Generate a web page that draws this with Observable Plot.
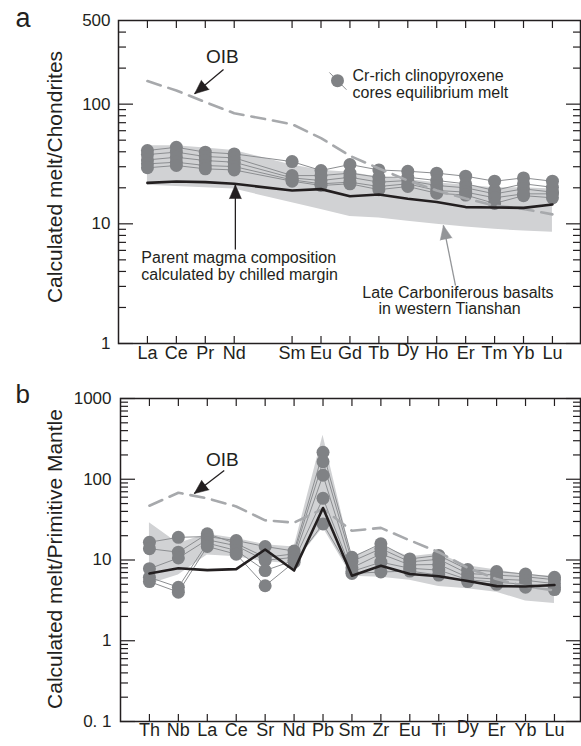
<!DOCTYPE html>
<html><head><meta charset="utf-8">
<script src="https://cdn.jsdelivr.net/npm/d3@7"></script>
<script src="https://cdn.jsdelivr.net/npm/@observablehq/plot@0.6"></script>
<style>
html,body{margin:0;padding:0;background:#fff;}
#chart{width:581px;}
#chart svg{display:block;overflow:visible;}
</style></head><body><div id="chart"></div>
<script>
// ---------------- Panel a: chondrite-normalised REE ----------------
const reeElements = ["La","Ce","Pr","Nd","Pm","Sm","Eu","Gd","Tb","Dy","Ho","Er","Tm","Yb","Lu"];
const reeOIB      = [156,130,104,84,null,68,52,37,29,23,19,16.3,14.2,13.3,12];
const reeParent   = [22,22.6,22.3,21.6,null,19,19.5,17,17.6,16.2,15.2,13.8,13.7,13.6,14.5];
const reeBasaltLow  = [21,20.5,20,19.5,null,15,13.2,11.5,11.2,10.5,9.9,9.4,9.0,8.7,8.5];
const reeBasaltHigh = [45,45,43,41,null,31,28,27,24.5,23.5,22,21,20,20,19.5];
const reeCpx1 = [41,43.6,39.7,38.4,null,33.1,27.9,31.3,28.2,27.5,26.5,25,22.7,24.2,22.7];
const reeCpx2 = [37.9,39.7,36.5,35.6,null,25.3,25.3,26.5,24.5,24.5,23,21.6,19,21.6,20.2];
const reeCpx3 = [34.2,36,33.8,32.7,null,24.2,23,24.5,22.3,23,20.9,20,17.8,19.6,18.4];
const reeCpx4 = [31.7,32.7,30.7,30.1,null,23.3,21.6,22.3,20.5,21.6,19,18.4,16.5,17.8,17.8];
const reeCpx5 = [29.4,30.7,28.8,28.2,null,22.7,20.9,21.6,19.3,20.5,18,17.4,14.8,17.2,16.5];
const aYTicks = [1,10,100,500];
const aYTickLabels = ["1","10","100","500"];
const aYMajor = [1,10,100];
const aYMinor = [2,3,4,5,6,7,8,9,20,30,40,50,60,70,80,90,200,300,400];

// ---------------- Panel b: primitive-mantle-normalised spider ----------------
const pmElements = ["Th","Nb","La","Ce","Sr","Nd","Pb","Sm","Zr","Eu","Ti","Dy","Er","Yb","Lu"];
const pmOIB      = [47,68,58,46,31,29,43,23,25,17.5,12.5,8,5.8,4.7,4.2];
const pmParent   = [6.8,7.9,7.5,7.7,13.5,7.4,44,6.4,8.5,6.7,6.3,5.5,4.75,4.7,4.9];
const pmBasaltLow  = [5,6.5,11.5,11,9.5,9,25,6.3,6.1,5.6,4.7,4.4,4.0,3.1,2.9];
const pmBasaltHigh = [29,16,21,18.5,15.5,14.5,350,11,15,11,12,8.5,7.5,6.6,6.3];
const pmCpx1 = [16.6,19.1,19.5,17.4,14.7,12.9,216,10.8,15.9,10.3,11.4,7.6,7.2,6.7,6.1];
const pmCpx2 = [13.8,12.5,21.1,16,10.8,11.9,165,9.6,13.8,9.5,10.2,6.8,6.5,6.2,5.7];
const pmCpx3 = [7.8,10.6,17.8,15,9.9,10.8,112,8,11.9,8.7,8.8,6.1,5.8,5.6,5.1];
const pmCpx4 = [6.1,4.6,16.2,13.1,7.4,9.9,58,7.2,9.4,7.9,7.5,5.7,5.3,5.0,4.6];
const pmCpx5 = [5.4,4.0,14.7,11.8,4.8,9.4,28,6.8,7.1,7.3,6.5,5.4,5.0,4.6,4.3];
const bYTicks = [0.1,1,10,100,1000];
const bYTickLabels = ["0. 1","1","10","100","1000"];
const bYMajor = [0.1,1,10,100,1000];
const bYMinor = [0.2,0.3,0.4,0.5,0.6,0.7,0.8,0.9,2,3,4,5,6,7,8,9,20,30,40,50,60,70,80,90,200,300,400,500,600,700,800,900];

// ---------------- styling ----------------
const FONT = "'Liberation Sans', Arial, Helvetica, sans-serif";
const INK = "#231f20";
const DOT = "#808285";
const THIN = "#8c8e91";
const BAND = "#d1d2d4";
const OIBC = "#a7a9ac";

function rows(cats, vals) {
  return cats.map((el, i) => ({i, el, v: vals[i]})).filter(d => d.v != null);
}
function bandRows(cats, lo, hi) {
  return cats.map((el, i) => ({i, lo: lo[i], hi: hi[i]})).filter(d => d.lo != null);
}
function cpxRows(cats, list) {
  return list.flatMap((vals, s) => rows(cats, vals).map(d => ({...d, s})));
}
function ticks(xTicks, yMajor, yMinor) {
  const o = {fill: "none", stroke: INK, strokeWidth: 1.2};
  return [
    Plot.axisY(yMajor, {...o, anchor: "left", tickSize: -15}),
    Plot.axisY(yMajor, {...o, anchor: "right", tickSize: -15}),
    Plot.axisY(yMinor, {...o, anchor: "left", tickSize: -8}),
    Plot.axisY(yMinor, {...o, anchor: "right", tickSize: -8}),
    Plot.axisX(xTicks, {...o, anchor: "bottom", tickSize: -7}),
    Plot.axisX(xTicks, {...o, anchor: "top", tickSize: -7})
  ];
}
function arrowMarks(arrows, sx, sy) {
  const withAngle = arrows.map(a => {
    const dx = sx(a.x2) - sx(a.x1), dy = sy(a.y2) - sy(a.y1);
    return {...a, angle: Math.atan2(dx, -dy) * 180 / Math.PI};
  });
  const out = [];
  for (const color of [...new Set(withAngle.map(a => a.color))]) {
    const sub = withAngle.filter(a => a.color === color);
    out.push(Plot.link(sub, {x1: "x1", y1: "y1", x2: "x2", y2: "y2", stroke: color, strokeWidth: 1.3}));
    out.push(Plot.vector(sub, {x: "x2", y: "y2", rotate: "angle", length: 14, r: 6, shape: "spike", anchor: "end", fill: color, stroke: color, strokeWidth: 0.5}));
  }
  return out;
}

// ---------------- Panel a ----------------
const aX = [-1, 14.97], aW = 581, aH = 380, aM = {l: 118, r: 1, t: 20, b: 37};
const aSx = d3.scaleLinear(aX, [aM.l, aW - aM.r]);
const aSy = d3.scaleLog([1, 500], [aH - aM.b, aM.t]);
const aLabels = rows(reeElements, reeElements.map(e => e === "Pm" ? null : e));
const aArrows = [
  {x1: 2.63, y1: 195, x2: 1.63, y2: 122, color: INK},
  {x1: 3.04, y1: 6.1, x2: 3.04, y2: 21.2, color: INK},
  {x1: 10.65, y1: 3.05, x2: 10.23, y2: 9.7, color: "#939598"}
];
const aCpx = cpxRows(reeElements, [reeCpx1, reeCpx2, reeCpx3, reeCpx4, reeCpx5]);

const plotA = Plot.plot({
  width: aW, height: aH,
  marginLeft: aM.l, marginRight: aM.r, marginTop: aM.t, marginBottom: aM.b,
  x: {domain: aX, axis: null},
  y: {type: "log", domain: [1, 500], axis: null},
  style: {fontFamily: FONT, color: INK, background: "#fff", overflow: "visible"},
  marks: [
    Plot.areaY(bandRows(reeElements, reeBasaltLow, reeBasaltHigh), {x: "i", y1: "lo", y2: "hi", fill: BAND}),
    Plot.line(aCpx, {x: "i", y: "v", z: "s", stroke: THIN, strokeWidth: 1}),
    Plot.dot(aCpx, {x: "i", y: "v", r: 6.5, fill: DOT}),
    Plot.line(rows(reeElements, reeOIB), {x: "i", y: "v", stroke: OIBC, strokeWidth: 2.6, strokeDasharray: "14,8"}),
    Plot.line(rows(reeElements, reeParent), {x: "i", y: "v", stroke: INK, strokeWidth: 2.6}),
    // legend
    Plot.link([{x1: 6.29, y1: 184, x2: 6.88, y2: 132}], {x1: "x1", y1: "y1", x2: "x2", y2: "y2", stroke: THIN, strokeWidth: 1}),
    Plot.dot([{x: 6.57, y: 157}], {x: "x", y: "y", r: 6.5, fill: DOT}),
    Plot.text(["Cr-rich clinopyroxene\ncores equilibrium melt"], {x: 7.09, y: 148, textAnchor: "start", fontSize: 16, lineHeight: 1.12, fill: INK}),
    // annotations
    Plot.text(["OIB"], {x: 2.59, y: 250, fontSize: 19, fill: INK}),
    Plot.text(["Parent magma composition\ncalculated by chilled margin"], {x: -0.21, y: 4.44, textAnchor: "start", fontSize: 16, lineHeight: 1.07, fill: INK}),
    Plot.text(["Late Carboniferous basalts"], {x: 7.43, y: 2.67, textAnchor: "start", fontSize: 16, fill: INK}),
    Plot.text(["in western Tianshan"], {x: 7.985, y: 1.96, textAnchor: "start", fontSize: 16, fill: INK}),
    ...arrowMarks(aArrows, aSx, aSy),
    // frame & ticks
    Plot.frame({stroke: INK, strokeWidth: 1.5}),
    ...ticks(aLabels.map(d => d.i), aYMajor, aYMinor),
    Plot.text(aYTicks, {y: d => d, text: (d, k) => aYTickLabels[k], frameAnchor: "left", dx: -8, textAnchor: "end", fontSize: 17, fill: INK}),
    Plot.text(aLabels.filter(d => d.el !== "Dy"), {x: "i", text: "el", frameAnchor: "bottom", dy: 15, fontSize: 18, fill: INK}),
    Plot.text(aLabels.filter(d => d.el === "Dy"), {x: "i", text: "el", frameAnchor: "bottom", dy: 12, fontSize: 18, fill: INK}),
    Plot.text(["Calculated melt/Chondrites"], {frameAnchor: "left", rotate: -90, dx: -63, dy: -5, textAnchor: "middle", lineAnchor: "middle", fontSize: 21, fill: INK}),
    Plot.text(["a"], {frameAnchor: "top-left", dx: -103, dy: 6, lineAnchor: "bottom", textAnchor: "start", fontSize: 27, fill: INK})
  ]
});

// ---------------- Panel b ----------------
const bX = [-1, 14.9], bW = 581, bH = 366, bM = {l: 120, r: 1, t: 18, b: 25};
const bSx = d3.scaleLinear(bX, [bM.l, bW - bM.r]);
const bSy = d3.scaleLog([0.1, 1000], [bH - bM.b, bM.t]);
const bLabels = rows(pmElements, pmElements);
const bArrows = [
  {x1: 2.585, y1: 128, x2: 1.55, y2: 66.5, color: INK}
];
const bCpx = cpxRows(pmElements, [pmCpx1, pmCpx2, pmCpx3, pmCpx4, pmCpx5]);

const plotB = Plot.plot({
  width: bW, height: bH,
  marginLeft: bM.l, marginRight: bM.r, marginTop: bM.t, marginBottom: bM.b,
  x: {domain: bX, axis: null},
  y: {type: "log", domain: [0.1, 1000], axis: null},
  style: {fontFamily: FONT, color: INK, background: "#fff", overflow: "visible"},
  marks: [
    Plot.areaY(bandRows(pmElements, pmBasaltLow, pmBasaltHigh), {x: "i", y1: "lo", y2: "hi", fill: BAND}),
    Plot.line(bCpx, {x: "i", y: "v", z: "s", stroke: THIN, strokeWidth: 1}),
    Plot.dot(bCpx, {x: "i", y: "v", r: 6.5, fill: DOT}),
    Plot.line(rows(pmElements, pmOIB), {x: "i", y: "v", stroke: OIBC, strokeWidth: 2.6, strokeDasharray: "14,8"}),
    Plot.line(rows(pmElements, pmParent), {x: "i", y: "v", stroke: INK, strokeWidth: 2.6}),
    Plot.text(["OIB"], {x: 2.52, y: 176, fontSize: 19, fill: INK}),
    ...arrowMarks(bArrows, bSx, bSy),
    Plot.frame({stroke: INK, strokeWidth: 1.5}),
    ...ticks(bLabels.map(d => d.i), bYMajor, bYMinor),
    Plot.text(bYTicks, {y: d => d, text: (d, k) => bYTickLabels[k], frameAnchor: "left", dx: -9, textAnchor: "end", fontSize: 17, fill: INK}),
    Plot.text(bLabels.filter(d => d.el !== "Dy"), {x: "i", text: "el", frameAnchor: "bottom", dy: 14, fontSize: 18, fill: INK}),
    Plot.text(bLabels.filter(d => d.el === "Dy"), {x: "i", text: "el", frameAnchor: "bottom", dy: 11, fontSize: 18, fill: INK}),
    Plot.text(["Calculated melt/Primitive Mantle"], {frameAnchor: "left", rotate: -90, dx: -65, dy: -1, textAnchor: "middle", lineAnchor: "middle", fontSize: 21, fill: INK}),
    Plot.text(["b"], {frameAnchor: "top-left", dx: -105, dy: 4, lineAnchor: "bottom", textAnchor: "start", fontSize: 26, fill: INK})
  ]
});

document.getElementById("chart").append(plotA, plotB);
</script></body></html>
